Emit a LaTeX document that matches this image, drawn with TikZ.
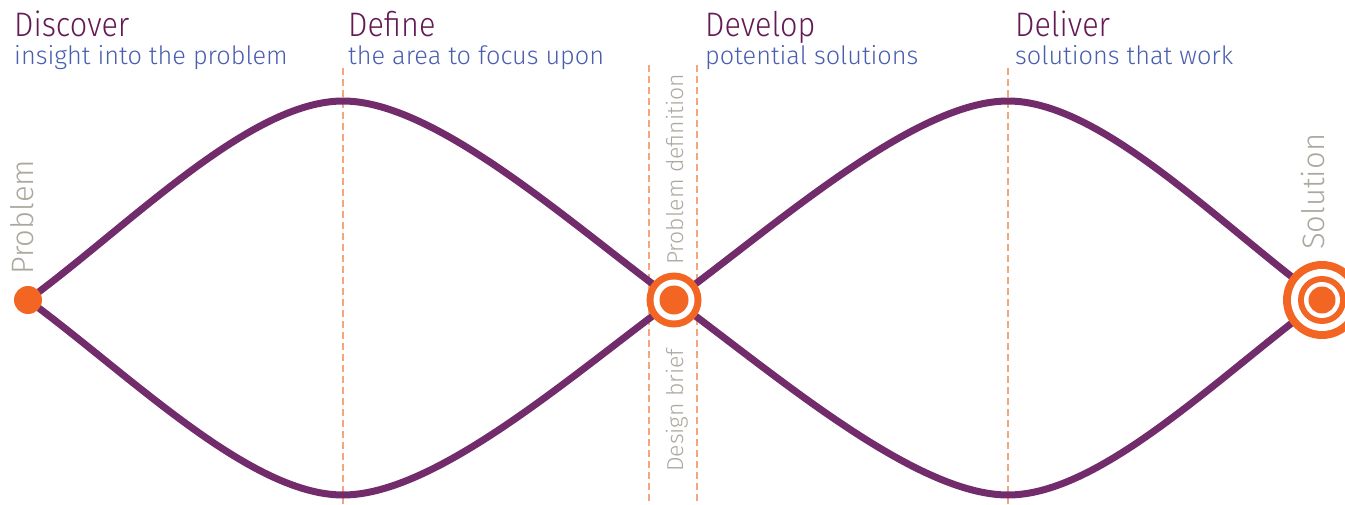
\documentclass[tikz,border=0pt]{standalone}
\usepackage{fontspec}
\setmainfont{Fira Sans}[UprightFont=* Light]
\newfontfamily\titlefont{Fira Sans}[UprightFont=* Light, FakeStretch=0.9]
\usetikzlibrary{positioning}

\definecolor{plum}{HTML}{722C6B}
\definecolor{flame}{HTML}{F26522}
\definecolor{peach}{HTML}{F6A47E}
\definecolor{phasetitle}{HTML}{651A55}
\definecolor{phasenote}{HTML}{4A5EB0}
\definecolor{stone}{HTML}{ADA89F}

\begin{document}
\begin{tikzpicture}[x=1pt, y=-1pt,
  phase/.style={font=\titlefont\fontsize{34}{34}\selectfont, text=phasetitle, inner sep=0pt, anchor=base west},
  aim/.style={font=\fontsize{25.3}{25}\selectfont, text=phasenote, inner sep=0pt, anchor=base west},
  tag/.style={font=\fontsize{31}{31}\selectfont, text=stone, rotate=90, inner sep=0pt, anchor=base west},
  smalltag/.style={tag, font=\fontsize{23}{23}\selectfont},
  guide/.style={peach, line width=1.3pt, dash pattern=on 7pt off 4pt},
  wave/.style={plum, line width=7pt}]
\useasboundingbox (0,0) rectangle (1345,505);

% turning points of the two diamonds
\coordinate (problem) at (28,300);
\coordinate (definetop) at (343,101);
\coordinate (definelow) at (343,495);
\coordinate (delivertop) at (1008,101);
\coordinate (deliverlow) at (1008,495);
\coordinate (brief) at (674,300);
\coordinate (solution) at (1322,300);

% guides
\draw[guide] (343,68) -- (343,505);
\draw[guide] (1008,68) -- (1008,505);
\draw[guide] (649,65) -- (649,505);
\draw[guide] (697,65) -- (697,505);

% first diamond
\draw[wave] (problem) .. controls +(102,-75) and +(-93,0) .. (definetop)
  .. controls +(93,0) and +(-102,-75) .. (brief);
\draw[wave] (problem) .. controls +(102,75) and +(-93,0) .. (definelow)
  .. controls +(93,0) and +(-102,75) .. (brief);

% second diamond
\draw[wave] (brief) .. controls +(102,-75) and +(-93,0) .. (delivertop)
  .. controls +(93,0) and +(-102,-75) .. (solution);
\draw[wave] (brief) .. controls +(102,75) and +(-93,0) .. (deliverlow)
  .. controls +(93,0) and +(-102,75) .. (solution);

% start dot and targets
\node[circle, fill=flame, minimum size=28pt, inner sep=0pt] (start) at (problem) {};

\fill[flame] (brief) circle (27.5pt);
\fill[white] (brief) circle (20.5pt);
\fill[flame] (brief) circle (14.5pt);

\fill[flame] (solution) circle (39pt);
\fill[white] (solution) circle (31pt);
\fill[flame] (solution) circle (24pt);
\fill[white] (solution) circle (18pt);
\fill[flame] (solution) circle (13.5pt);

% phases
\node[phase] (discover) at (14,37) {Discover};
\node[aim] at (14,65) {insight into the problem};
\node[phase] (define) at (348,37) {Define};
\node[aim] at (348,65) {the area to focus upon};
\node[phase] (develop) at (705,37) {Develop};
\node[aim] at (705,65) {potential solutions};
\node[phase] (deliver) at (1015,37) {Deliver};
\node[aim] at (1015,65) {solutions that work};

% side labels
\node[tag] at (34,275) {Problem};
\node[tag] at (1324,250) {Solution};
\node[smalltag] at (683,265) {Problem definition};
\node[smalltag] at (683,472) {Design brief};
\end{tikzpicture}
\end{document}
